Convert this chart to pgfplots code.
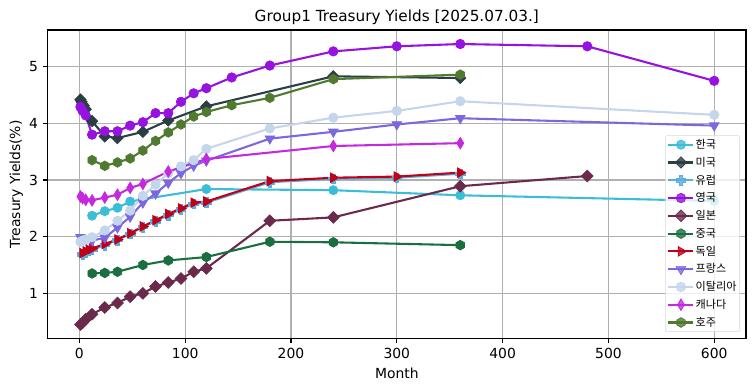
\documentclass[border=0pt]{standalone}
\usepackage{pgfplots}
\pgfplotsset{compat=1.18}
\usepackage{fontspec}
\setmainfont{DejaVu Sans}
\newfontfamily\kr{Noto Sans CJK KR}

\definecolor{cKR}{HTML}{3BBDD8}
\definecolor{cUS}{HTML}{2B3D45}
\definecolor{cEU}{HTML}{5AAEDE}
\definecolor{cUK}{HTML}{9512E0}
\definecolor{cJP}{HTML}{6B2A4C}
\definecolor{cCN}{HTML}{1A6E40}
\definecolor{cDE}{HTML}{C00018}
\definecolor{cFR}{HTML}{7B68E0}
\definecolor{cIT}{HTML}{C4D6EC}
\definecolor{cCA}{HTML}{C429E0}
\definecolor{cAU}{HTML}{4F7A30}

\pgfdeclareplotmark{hexagon*}{%
  \pgfpathmoveto{\pgfpointpolar{90}{\pgfplotmarksize}}%
  \pgfpathlineto{\pgfpointpolar{150}{\pgfplotmarksize}}%
  \pgfpathlineto{\pgfpointpolar{210}{\pgfplotmarksize}}%
  \pgfpathlineto{\pgfpointpolar{270}{\pgfplotmarksize}}%
  \pgfpathlineto{\pgfpointpolar{330}{\pgfplotmarksize}}%
  \pgfpathlineto{\pgfpointpolar{30}{\pgfplotmarksize}}%
  \pgfpathclose
  \pgfusepathqfillstroke}
\pgfdeclareplotmark{plusfill}{%
  \pgfpathmoveto{\pgfpoint{0.35\pgfplotmarksize}{\pgfplotmarksize}}%
  \pgfpathlineto{\pgfpoint{-0.35\pgfplotmarksize}{\pgfplotmarksize}}%
  \pgfpathlineto{\pgfpoint{-0.35\pgfplotmarksize}{0.35\pgfplotmarksize}}%
  \pgfpathlineto{\pgfpoint{-\pgfplotmarksize}{0.35\pgfplotmarksize}}%
  \pgfpathlineto{\pgfpoint{-\pgfplotmarksize}{-0.35\pgfplotmarksize}}%
  \pgfpathlineto{\pgfpoint{-0.35\pgfplotmarksize}{-0.35\pgfplotmarksize}}%
  \pgfpathlineto{\pgfpoint{-0.35\pgfplotmarksize}{-\pgfplotmarksize}}%
  \pgfpathlineto{\pgfpoint{0.35\pgfplotmarksize}{-\pgfplotmarksize}}%
  \pgfpathlineto{\pgfpoint{0.35\pgfplotmarksize}{-0.35\pgfplotmarksize}}%
  \pgfpathlineto{\pgfpoint{\pgfplotmarksize}{-0.35\pgfplotmarksize}}%
  \pgfpathlineto{\pgfpoint{\pgfplotmarksize}{0.35\pgfplotmarksize}}%
  \pgfpathlineto{\pgfpoint{0.35\pgfplotmarksize}{0.35\pgfplotmarksize}}%
  \pgfpathclose
  \pgfusepathqfillstroke}

\begin{document}
\begin{tikzpicture}
\useasboundingbox (-34.3pt,-37.8pt) rectangle (509.3pt,243.7pt);
\begin{axis}[
  at={(0pt,0pt)}, anchor=south west,
  scale only axis, width=502.8pt, height=222.1pt,
  xmin=-30, xmax=630, ymin=0.2025, ymax=5.6475,
  xtick={0,100,...,600}, ytick={1,2,3,4,5},
  /pgf/number format/assume math mode=true,
  ticklabel style={font=\fontsize{10}{12}\selectfont},
  label style={font=\fontsize{10}{12}\selectfont},
  xlabel={Month}, ylabel={Treasury Yields(\%)},
  ylabel style={yshift=-2.5pt},
  title={Group1 Treasury Yields [2025.07.03.]},
  title style={font=\fontsize{11}{13}\selectfont, yshift=-5.5pt},
  grid=major, grid style={color=black!31, line width=0.8pt},
  axis line style={line width=0.8pt},
  tick style={black, line width=0.8pt},
  tick align=outside, major tick length=3.5pt,
  xtick pos=left, ytick pos=left,
  legend cell align=left,
  legend style={font=\kr\fontsize{8}{9}\selectfont, at={(1,0)}, anchor=south east,
    xshift=-4.3pt, yshift=4.7pt, draw=black!15, rounded corners=1.5pt,
    fill=white, fill opacity=0.8, text opacity=1, draw opacity=1,
    inner sep=1.5pt, row sep=2.6pt,
    nodes={inner sep=0.8pt, text height=7pt, text depth=1.6pt}},
  legend image code/.code={\draw[mark repeat=2,mark phase=2] plot coordinates {(0pt,0pt) (9pt,0pt) (18pt,0pt)};},
  every axis plot/.append style={line width=1.5pt},
]
% 한국
\addplot[color=cKR, mark=*, mark size=3.3pt, mark options={solid, line width=0.5pt, fill=cKR}] coordinates {
 (12,2.37) (24,2.45) (36,2.51) (48,2.62) (60,2.66) (120,2.84) (240,2.82) (360,2.73) (600,2.63)};
\addlegendentry{한국}
% 미국
\addplot[color=cUS, mark=square*, mark size=2.9pt, mark options={solid, rotate=45, line width=0.5pt, fill=cUS}] coordinates {
 (1,4.42) (2,4.38) (3,4.34) (4,4.31) (6,4.25) (12,4.04) (24,3.77) (36,3.74) (60,3.85) (84,4.05) (120,4.30) (240,4.83) (360,4.80)};
\addlegendentry{미국}
% 유럽
\addplot[color=cEU, mark=plusfill, mark size=3.5pt, mark options={solid, line width=0.5pt, fill=cEU}] coordinates {
 (3,1.69) (6,1.72) (9,1.75) (12,1.77) (24,1.85) (36,1.94) (48,2.05) (60,2.17) (72,2.27) (84,2.38) (96,2.48) (108,2.58) (120,2.60) (180,2.96) (240,3.02) (300,3.04) (360,3.11)};
\addlegendentry{유럽}
% 영국
\addplot[color=cUK, mark=*, mark size=3.4pt, mark options={solid, line width=0.5pt, fill=cUK}] coordinates {
 (1,4.29) (3,4.22) (6,4.14) (12,3.80) (24,3.86) (36,3.86) (48,3.96) (60,4.02) (72,4.18) (84,4.18) (96,4.38) (108,4.53) (120,4.62) (144,4.81) (180,5.02) (240,5.27) (300,5.36) (360,5.40) (480,5.36) (600,4.75)};
\addlegendentry{영국}
% 일본
\addplot[color=cJP, mark=square*, mark size=3.0pt, mark options={solid, rotate=45, line width=0.5pt, fill=cJP}] coordinates {
 (1,0.45) (3,0.48) (6,0.54) (12,0.63) (24,0.75) (36,0.83) (48,0.94) (60,1.00) (72,1.12) (84,1.19) (96,1.26) (108,1.38) (120,1.44) (180,2.28) (240,2.34) (360,2.89) (480,3.07)};
\addlegendentry{일본}
% 중국
\addplot[color=cCN, mark=hexagon*, mark size=3.5pt, mark options={solid, line width=0.5pt, fill=cCN}] coordinates {
 (12,1.35) (24,1.36) (36,1.38) (60,1.50) (84,1.58) (120,1.64) (180,1.91) (240,1.90) (360,1.85)};
\addlegendentry{중국}
% 독일
\addplot[color=cDE, mark=triangle*, mark size=4pt, mark options={solid, rotate=-90, line width=0.5pt, fill=cDE}] coordinates {
 (3,1.71) (6,1.74) (9,1.77) (12,1.79) (24,1.87) (36,1.95) (48,2.06) (60,2.18) (72,2.29) (84,2.40) (96,2.50) (108,2.60) (120,2.62) (180,2.98) (240,3.04) (300,3.06) (360,3.13)};
\addlegendentry{독일}
% 프랑스
\addplot[color=cFR, mark=triangle*, mark size=4pt, mark options={solid, rotate=180, line width=0.5pt, fill=cFR}] coordinates {
 (1,1.99) (3,1.97) (6,1.94) (12,1.93) (24,1.98) (36,2.16) (48,2.35) (60,2.60) (72,2.76) (84,2.95) (96,3.12) (108,3.25) (120,3.34) (180,3.73) (240,3.85) (300,3.98) (360,4.09) (600,3.96)};
\addlegendentry{프랑스}
% 이탈리아
\addplot[color=cIT, mark=*, mark size=3.4pt, mark options={solid, line width=0.5pt, fill=cIT}] coordinates {
 (1,1.91) (3,1.93) (6,1.95) (12,1.99) (24,2.11) (36,2.28) (48,2.46) (60,2.72) (72,2.92) (84,3.12) (96,3.24) (108,3.35) (120,3.55) (180,3.91) (240,4.10) (300,4.22) (360,4.39) (600,4.15)};
\addlegendentry{이탈리아}
% 캐나다
\addplot[color=cCA, mark=diamond*, mark size=4.2pt, mark options={solid, xscale=0.8, line width=0.5pt, fill=cCA}] coordinates {
 (1,2.71) (3,2.68) (6,2.65) (12,2.64) (24,2.69) (36,2.74) (48,2.86) (60,2.93) (84,3.15) (120,3.37) (240,3.60) (360,3.65)};
\addlegendentry{캐나다}
% 호주
\addplot[color=cAU, mark=hexagon*, mark size=3.5pt, mark options={solid, line width=0.5pt, fill=cAU}] coordinates {
 (12,3.35) (24,3.25) (36,3.31) (48,3.38) (60,3.52) (72,3.69) (84,3.84) (96,3.98) (108,4.12) (120,4.20) (144,4.32) (180,4.45) (240,4.78) (360,4.86)};
\addlegendentry{호주}
\end{axis}
\end{tikzpicture}
\end{document}
